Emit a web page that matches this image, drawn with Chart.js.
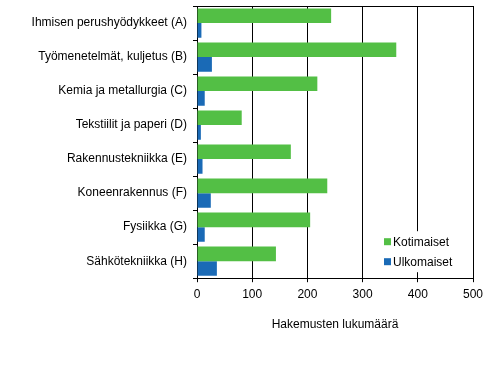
<!DOCTYPE html>
<html>
<head>
<meta charset="utf-8">
<script src="https://cdn.jsdelivr.net/npm/chart.js@4/dist/chart.umd.min.js"></script>
<style>
  html, body { margin: 0; padding: 0; background: #fff; }
  #wrap { width: 493px; height: 377px; }
</style>
</head>
<body>
<div id="wrap"><canvas id="chart" width="493" height="377"></canvas></div>
<script>
// luokat ja arvot (luettu kuvasta)
var luokat = [
  "Ihmisen perushyödykkeet (A)",
  "Työmenetelmät, kuljetus (B)",
  "Kemia ja metallurgia (C)",
  "Tekstiilit ja paperi (D)",
  "Rakennustekniikka (E)",
  "Koneenrakennus (F)",
  "Fysiikka (G)",
  "Sähkötekniikka (H)"
];
var kotimaiset = [243, 361, 218, 81, 170, 236, 205, 143];
var ulkomaiset = [8, 27, 14, 7, 10, 25, 14, 36];
var xTicks = [0, 100, 200, 300, 400, 500];

var vihrea = "#53bf45";
var sininen = "#1a6ab6";

// selite piirretään kuva-alueen sisään, oikeaan alakulmaan
var selite = {
  id: "selite",
  afterDatasetsDraw: function(chart) {
    var ctx = chart.ctx;
    var a = chart.chartArea;
    var x0 = a.right - 94, y0 = a.bottom - 47;
    ctx.save();
    ctx.fillStyle = "#fff";
    ctx.fillRect(x0, y0, 88, 41);
    ctx.font = "12px 'Liberation Sans', Arial, sans-serif";
    ctx.textBaseline = "middle";
    chart.data.datasets.forEach(function(ds, i) {
      var y = y0 + 10 + i * 20;
      ctx.fillStyle = ds.backgroundColor;
      ctx.fillRect(x0 + 5, y - 3, 7, 7);
      ctx.fillStyle = "#000";
      ctx.fillText(ds.label, x0 + 14, y + 1);
    });
    // yläreuna
    ctx.strokeStyle = "#000";
    ctx.lineWidth = 1;
    ctx.beginPath();
    ctx.moveTo(a.left, Math.round(a.top) + 0.5);
    ctx.lineTo(a.right + 0.5, Math.round(a.top) + 0.5);
    ctx.stroke();
    ctx.restore();
  }
};

var ctx = document.getElementById("chart").getContext("2d");
new Chart(ctx, {
  type: "bar",
  data: {
    labels: luokat,
    datasets: [
      { label: "Kotimaiset", data: kotimaiset, backgroundColor: vihrea },
      { label: "Ulkomaiset", data: ulkomaiset, backgroundColor: sininen }
    ]
  },
  plugins: [selite],
  options: {
    indexAxis: "y",
    responsive: false,
    animation: false,
    devicePixelRatio: 1,
    layout: { padding: { top: 6, right: 20, left: 0, bottom: 41 } },
    datasets: { bar: { categoryPercentage: 0.86, barPercentage: 1.0, borderWidth: 0 } },
    plugins: {
      legend: { display: false },
      tooltip: { enabled: false }
    },
    scales: {
      x: {
        min: 0,
        max: 500,
        afterBuildTicks: function(axis) {
          axis.ticks = xTicks.map(function(v) { return { value: v }; });
        },
        grid: { color: "#000", lineWidth: 1, tickLength: 4, drawOnChartArea: true },
        border: { color: "#000", width: 1 },
        ticks: {
          color: "#000",
          padding: 5,
          font: { family: "'Liberation Sans', Arial, sans-serif", size: 12 }
        },
        title: {
          display: true,
          text: "Hakemusten lukumäärä",
          color: "#000",
          padding: { top: 11 },
          font: { family: "'Liberation Sans', Arial, sans-serif", size: 12 }
        }
      },
      y: {
        afterFit: function(axis) {
          axis.width = 197;
          axis.paddingTop = 0;
          axis.paddingBottom = 0;
        },
        grid: { color: "#000", offset: true, drawOnChartArea: false, tickLength: 4 },
        border: { color: "#000", width: 1 },
        ticks: {
          color: "#000",
          padding: 6,
          font: { family: "'Liberation Sans', Arial, sans-serif", size: 12 }
        }
      }
    }
  }
});
</script>
</body>
</html>
